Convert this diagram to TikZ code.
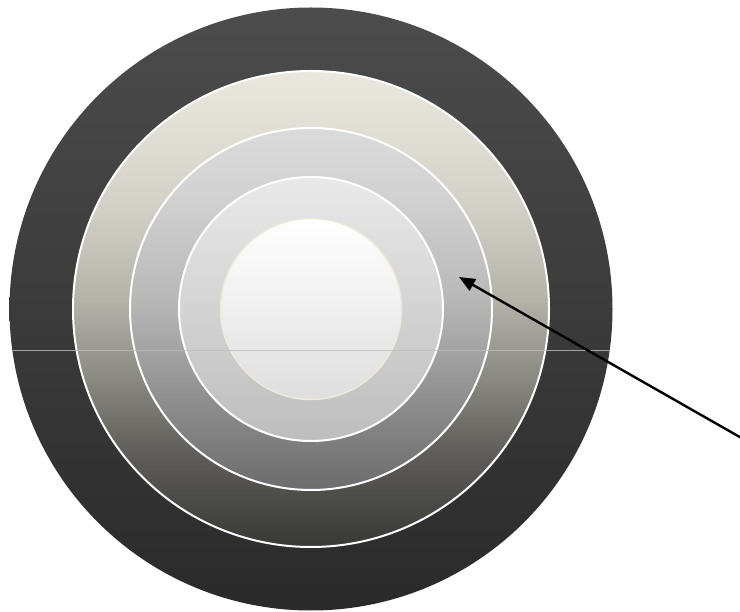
\documentclass[tikz,border=0pt]{standalone}
\usepackage{tikz}
\usetikzlibrary{arrows.meta}
\definecolor{darktop}{HTML}{4C4C4C}
\definecolor{darkbot}{HTML}{2A2A2A}
\definecolor{palltop}{HTML}{E9E9E9}
\definecolor{pallbot}{HTML}{BDBDBD}
\definecolor{coretop}{HTML}{FFFFFF}
\definecolor{corebot}{HTML}{DEDEDE}
\definecolor{coreedge}{HTML}{ECEBD9}
\definecolor{horiz}{HTML}{BDBDBD}
% shadings for the two middle rings (100bp box, ring fills 25bp..75bp)
\pgfdeclareverticalshading{beigeshade}{100bp}{%
  color(0bp)=(rgb,255:red,56;green,56;blue,54);
  color(25bp)=(rgb,255:red,56;green,56;blue,54);
  color(35bp)=(rgb,255:red,95;green,94;blue,90);
  color(46bp)=(rgb,255:red,155;green,154;blue,146);
  color(51bp)=(rgb,255:red,180;green,179;blue,170);
  color(61bp)=(rgb,255:red,211;green,209;blue,199);
  color(67bp)=(rgb,255:red,222;green,220;blue,210);
  color(75bp)=(rgb,255:red,234;green,232;blue,222);
  color(100bp)=(rgb,255:red,234;green,232;blue,222)}
\pgfdeclareverticalshading{greyshade}{100bp}{%
  color(0bp)=(rgb,255:red,108;green,108;blue,108);
  color(25bp)=(rgb,255:red,108;green,108;blue,108);
  color(36bp)=(rgb,255:red,138;green,138;blue,138);
  color(45bp)=(rgb,255:red,165;green,165;blue,165);
  color(52bp)=(rgb,255:red,185;green,185;blue,185);
  color(66bp)=(rgb,255:red,210;green,210;blue,210);
  color(75bp)=(rgb,255:red,218;green,218;blue,218);
  color(100bp)=(rgb,255:red,218;green,218;blue,218)}
\tikzset{
  ring/.style={circle,draw=white,line width=2pt,inner sep=0pt,outer sep=0pt},
  ar/.style={-{Triangle[length=16pt,width=13pt]},line width=2.4pt,black},
  horizon/.style={horiz,line width=1pt,opacity=0.8}
}

\begin{document}
\begin{tikzpicture}[x=1pt,y=-1pt]
\useasboundingbox (0,0) rectangle (740,612);
\clip (0,0) rectangle (740,612);
% rings, outside in
\node[ring,draw=none,minimum size=603pt,top color=darktop,bottom color=darkbot] (outer) at (311,309) {};
\node[ring,minimum size=476pt,shading=beigeshade] (beige) at (311,309) {};
\node[ring,minimum size=362pt,shading=greyshade] (grey) at (311,309) {};
\node[ring,minimum size=264pt,top color=palltop,bottom color=pallbot] (pale) at (311,309) {};
\node[ring,draw=coreedge,line width=1.5pt,minimum size=181pt,top color=coretop,bottom color=corebot] (core) at (311,309) {};
% horizon line
\begin{scope}
  \clip (outer.center) circle (301.5);
  \draw[horizon] (0,351) -- (740,351);
\end{scope}
% pointer
\coordinate (tail) at (745,440);
\coordinate (tip) at (459,277);
\draw[ar] (tail) -- (tip);
\end{tikzpicture}
\end{document}
